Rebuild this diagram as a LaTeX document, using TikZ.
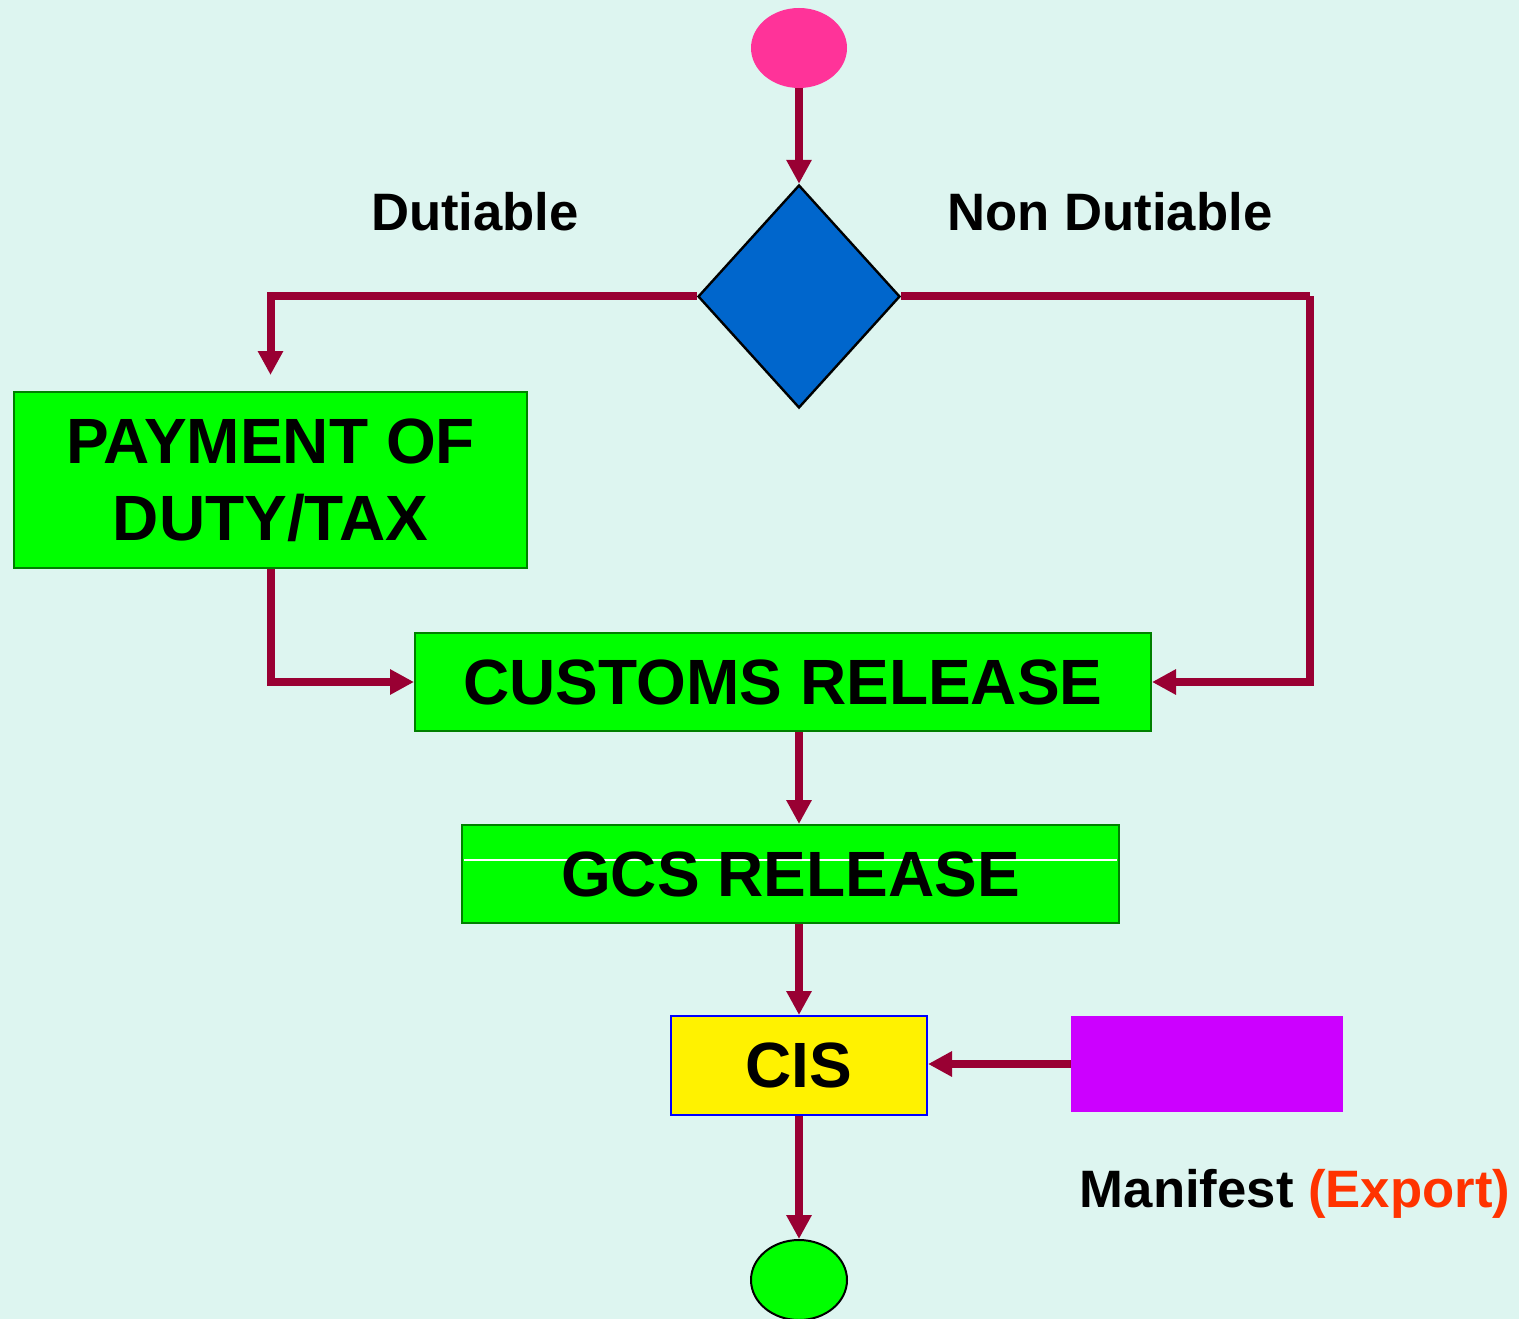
\documentclass[tikz,border=0pt]{standalone}
\usepackage{fontspec}
\setmainfont{Liberation Sans}
\usetikzlibrary{shapes.geometric,arrows.meta}
\definecolor{bgcol}{RGB}{221,245,240}
\definecolor{flowcol}{RGB}{153,0,51}
\definecolor{boxgreen}{RGB}{0,255,0}
\definecolor{edgegreen}{RGB}{0,128,0}
\definecolor{startpink}{RGB}{255,51,153}
\definecolor{decblue}{RGB}{0,102,204}
\definecolor{manviolet}{RGB}{204,0,255}
\definecolor{exportred}{RGB}{255,51,0}

\begin{document}
\begin{tikzpicture}[x=0.75pt,y=0.75pt,yscale=-1,xscale=1,
	flow/.style={draw=flowcol,line width=6pt,-{Triangle[length=18pt,width=18pt]}},
	line/.style={draw=flowcol,line width=6pt},
	greenbox/.style={draw=edgegreen,fill=boxgreen,line width=1.5pt,inner sep=0pt,align=center,
		font=\bfseries\fontsize{48}{57.75}\selectfont},
	lbl/.style={anchor=base,inner sep=0.75pt,font=\bfseries\fontsize{39.5}{46}\selectfont}]
	\useasboundingbox (0,0) rectangle (1519,1319);
	\fill[bgcol] (0,0) rectangle (1519,1319);
	
	%Shape: Ellipse [start]
	\draw (799,48) node (start) [ellipse,fill=startpink,minimum width=72pt,minimum height=60pt,inner sep=0pt] {};
	%Shape: Diamond [decision]
	\draw (799,296.5) node (dec) [diamond,draw=black,line width=1.8pt,fill=decblue,minimum width=151.5pt,minimum height=167.25pt,inner sep=0pt] {};
	%Shape: Rectangle [payment]
	\draw (270.5,480) node (pay) [greenbox,minimum width=384.75pt,minimum height=132pt] {PAYMENT OF\\DUTY/TAX};
	%Shape: Rectangle [customs]
	\draw (783,682) node (cust) [greenbox,minimum width=552pt,minimum height=73.5pt] {CUSTOMS RELEASE};
	%Shape: Rectangle [gcs]
	\draw (790.5,874) node (gcs) [greenbox,minimum width=492.75pt,minimum height=73.5pt] {};
	\draw[white,line width=1pt] (464,860) -- (1117,860);
	\draw (790.5,874) node [inner sep=0pt,font=\bfseries\fontsize{48}{57.75}\selectfont] {GCS RELEASE};
	%Shape: Rectangle [cis]
	\draw (799,1065.5) node (cis) [draw=blue,fill=yellow,line width=1.5pt,minimum width=192pt,minimum height=74.25pt,inner sep=0pt,
		font=\bfseries\fontsize{48}{57.75}\selectfont] {CIS};
	%Shape: Rectangle [manifest]
	\draw (1207,1064) node (man) [fill=manviolet,minimum width=204pt,minimum height=72pt,inner sep=0pt] {};
	%Shape: Ellipse [stop]
	\draw (799,1280) node (stop) [ellipse,draw=black,line width=1.5pt,fill=boxgreen,minimum width=72pt,minimum height=60pt,inner sep=0pt] {};
	
	\coordinate (ndturn) at (1310,296.5);
	
	%Connectors
	\draw[flow] (start.south) -- (dec.north);
	\draw[flow] (dec.west) -| ([yshift=-12pt]pay.north);
	\draw[flow] (pay.south) |- (cust.west);
	\draw[line] (dec.east) -- (ndturn);
	\draw[flow] (ndturn) |- (cust.east);
	\draw[flow] (cust.south -| dec.south) -- (gcs.north -| dec.south);
	\draw[flow] (gcs.south -| dec.south) -- (cis.north);
	\draw[flow] (man.west) -- (man.west -| cis.east);
	\draw[flow] (cis.south) -- (stop.north);
	
	% Text Node
	\draw (475,231) node (dut) [lbl] {Dutiable};
	% Text Node
	\draw (1110,231) node (nondut) [lbl] {Non Dutiable};
	% Text Node
	\draw (1295,1207) node (mantext) [lbl] {Manifest \textcolor{exportred}{(Export)}};
	
\end{tikzpicture}
\end{document}
